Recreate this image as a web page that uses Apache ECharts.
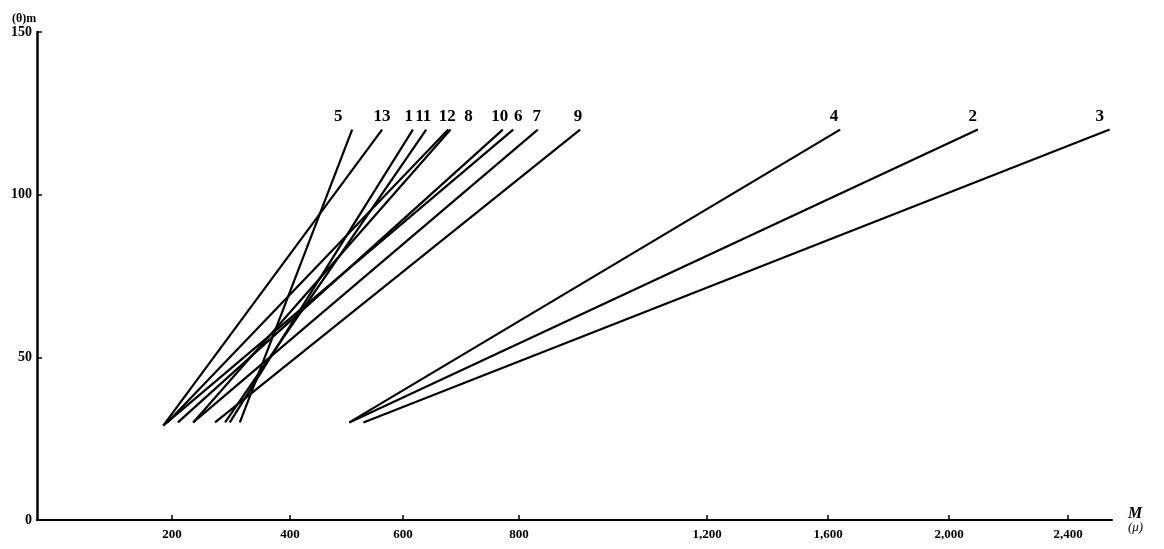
<!DOCTYPE html>
<html><head><meta charset="utf-8">
<script src="https://cdn.jsdelivr.net/npm/echarts@6/dist/echarts.min.js"></script>
<style>html,body{margin:0;padding:0;background:#fff}#c{width:1164px;height:549px}</style>
</head><body><div id="c"></div>
<script>
// ---- data ----
const curveNames = ['5','13','1','11','12','8','10','6','7','9','4','2','3'];
const mStart     = [315, 187, 298, 290, 193, 236, 210, 187, 236, 273, 505, 505, 530];
const mEnd       = [510, 563, 617, 640, 678, 682, 772, 790, 840, 930, 1640, 2097, 2540];
const thetaStart = [30, 29, 30, 30, 30, 30, 30, 29, 30, 30, 30, 30, 30];
const thetaEnd   = [120,120,120,120,120,120,120,120,120,120,120,120,120];
const xTickValues = [200, 400, 600, 800, 1200, 1600, 2000, 2400];
const xTickLabels = ['200','400','600','800','1,200','1,600','2,000','2,400'];
const yTickValues = [0, 50, 100, 150];

// ---- layout (irregular printed scale of the original figure) ----
const scaleVals = [0, 200, 400, 600, 800, 1200, 1600, 2000, 2400];
const scalePos  = [0, 135, 253, 366, 482, 670, 791, 912, 1031];
function u(m){
  for(let i=0;i<scaleVals.length-1;i++){
    if(m<=scaleVals[i+1]||i===scaleVals.length-2){
      const a=scaleVals[i],b=scaleVals[i+1];
      return scalePos[i]+(m-a)/(b-a)*(scalePos[i+1]-scalePos[i]);
    }
  }
}
const labelDx = [-14,0,-4,-3,-1,18,-3,5,-1,-2,-6,-5,-10];

const font = 'Liberation Serif';
const series = curveNames.map((n,i)=>({
  type:'line', name:n, symbol:'circle', symbolSize:0.5, showSymbol:true, silent:true,
  itemStyle:{color:'#000'},
  lineStyle:{color:'#000', width:2.2},
  label:{show:false},
  data:[[u(mStart[i]),thetaStart[i]],
        {value:[u(mEnd[i]),thetaEnd[i]],
         label:{show:true, position:'top', distance:4, offset:[labelDx[i],0],
                formatter:n, color:'#000', fontFamily:font, fontWeight:'bold', fontSize:17}}]
}));

const chart = echarts.init(document.getElementById('c'));
chart.setOption({
  animation:false,
  backgroundColor:'#fff',
  title:{text:'(θ)m', left:7, top:8,
         textStyle:{fontFamily:font, fontSize:12, fontWeight:'bold', color:'#000'}},
  grid:{left:37, right:52, top:32, bottom:29, containLabel:false},
  xAxis:{
    type:'value', min:0, max:1075,
    axisLine:{lineStyle:{color:'#000', width:2}},
    splitLine:{show:false},
    axisTick:{inside:true, length:5, lineStyle:{color:'#000', width:1.5},
              customValues:xTickValues.map(u)},
    axisLabel:{customValues:xTickValues.map(u), margin:8,
               formatter:(v)=>{let k=0,d=1e9;xTickValues.forEach((t,j)=>{const e=Math.abs(u(t)-v);if(e<d){d=e;k=j;}});return xTickLabels[k];},
               color:'#000', fontFamily:font, fontWeight:'bold', fontSize:13},
    name:'{m|M}\n{s|(μ)}', nameLocation:'end', nameGap:16,
    nameTextStyle:{rich:{m:{fontFamily:font, fontStyle:'italic', fontWeight:'bold', fontSize:16, color:'#000', lineHeight:15},
                         s:{fontFamily:font, fontStyle:'italic', fontSize:13, color:'#000', lineHeight:13}}}
  },
  yAxis:{
    type:'value', min:0, max:150, interval:50,
    axisLine:{show:true, lineStyle:{color:'#000', width:2.5}},
    splitLine:{show:false},
    axisTick:{show:true, inside:true, length:5, lineStyle:{color:'#000', width:1.5}},
    axisLabel:{margin:5, color:'#000', fontFamily:font, fontWeight:'bold', fontSize:14,
               formatter:(v)=>yTickValues.includes(v)?String(v):''}
  },
  series
});
</script></body></html>
